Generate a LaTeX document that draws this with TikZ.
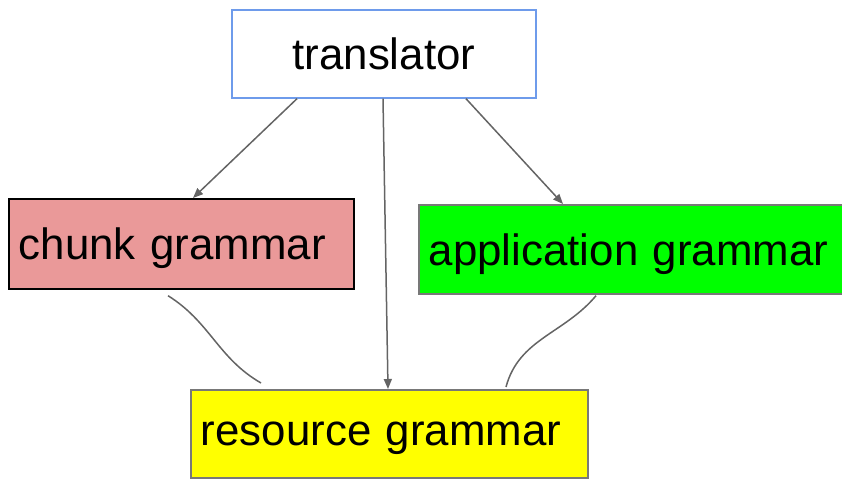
\documentclass[tikz,border=0pt]{standalone}
\usepackage{fontspec}
\setmainfont{Liberation Sans}
\usetikzlibrary{arrows.meta,calc}
\definecolor{transblue}{RGB}{110,155,235}
\definecolor{chunkred}{HTML}{EA9999}
\definecolor{appgreen}{HTML}{00FF00}
\definecolor{resyellow}{HTML}{FFFF00}
\definecolor{edgegray}{RGB}{120,120,120}
\definecolor{linkgray}{RGB}{100,100,100}
\begin{document}
\begin{tikzpicture}[x=1bp,y=-1bp,
		box/.style={draw,anchor=north west,inner xsep=10bp,inner ysep=0pt,text depth=0pt,
			align=left,line width=1.7bp,font=\fontsize{44}{50}\selectfont},
		link/.style={draw=linkgray,line width=1.5bp,-{Triangle[length=10bp,width=8bp]}},
		wire/.style={draw=linkgray,line width=1.5bp}]
			\useasboundingbox (0,0) rectangle (842,479);
			\node[box,draw=transblue,fill=white,minimum width=304bp,minimum height=88bp,text width=284bp,align=center] (translator) at (231,9) {translator};
			\node[box,draw=black,fill=chunkred,minimum width=345bp,minimum height=90bp,text width=325bp] (chunk) at (8,198) {chunk grammar};
			\node[box,draw=edgegray,fill=appgreen,minimum width=426bp,minimum height=89bp,text width=406bp] (application) at (418,204) {application grammar};
			\node[box,draw=edgegray,fill=resyellow,minimum width=397bp,minimum height=88bp,text width=377bp] (resource) at (190,389) {resource grammar};
			\coordinate (T1) at ($(translator.south west)+(66,0)$);
			\coordinate (T2) at ($(translator.south west)+(152,0)$);
			\coordinate (T3) at ($(translator.south west)+(235,0)$);
			\coordinate (C1) at ($(chunk.north west)+(185,0)$);
			\coordinate (R1) at ($(resource.north west)+(198,0)$);
			\coordinate (A1) at ($(application.north west)+(145,0)$);
			\coordinate (C2) at ($(chunk.south west)+(160,6)$);
			\coordinate (R2) at ($(resource.north west)+(71,-6)$);
			\coordinate (A2) at ($(application.south west)+(178,1)$);
			\coordinate (R3) at ($(resource.north west)+(316,-2)$);
			\draw[link] (T1) to (C1);
			\draw[link] (T2) to (R1);
			\draw[link] (T3) to (A1);
			\draw[wire] (C2) to[out=-32,in=150] (R2);
			\draw[wire] (A2) to[out=-130,in=75] (R3);
		\end{tikzpicture}
\end{document}
